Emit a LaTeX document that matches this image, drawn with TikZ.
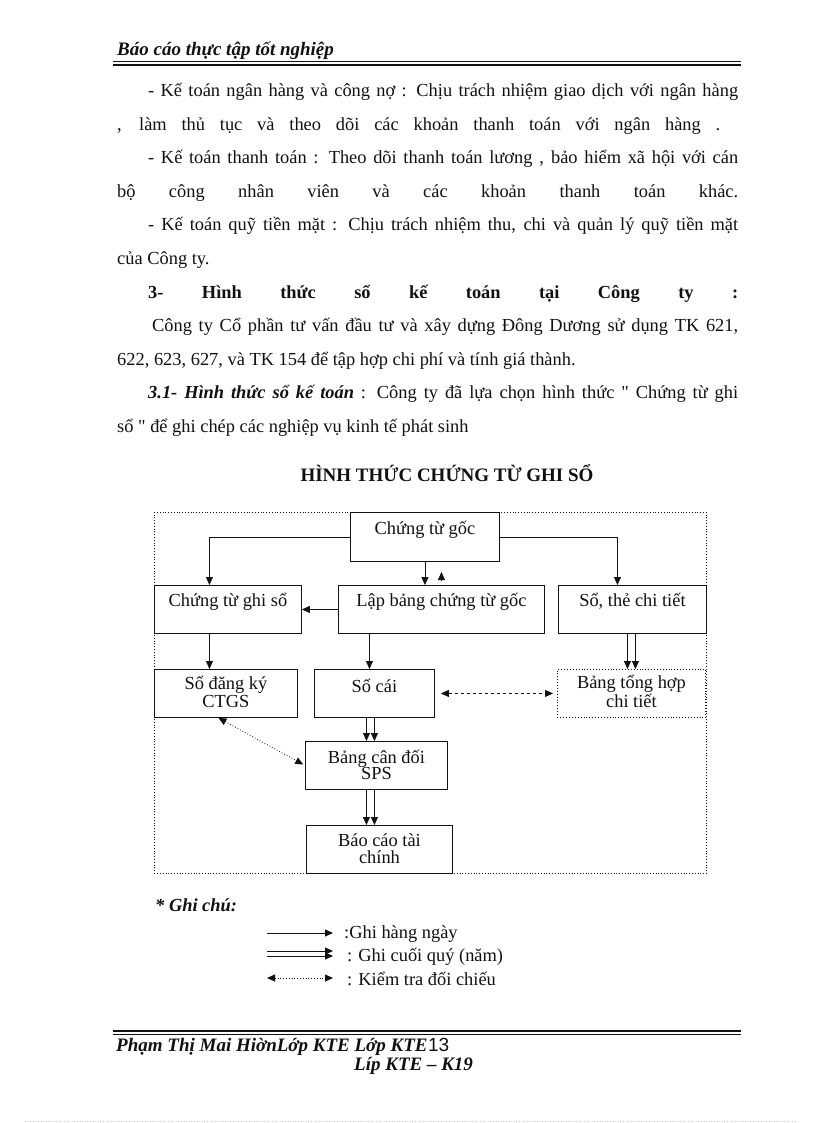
\documentclass[tikz,border=0pt]{standalone}
\usepackage{fontspec}
\setmainfont{Liberation Serif}[Ligatures=TeXOff]
\setsansfont{Liberation Sans}
\usetikzlibrary{arrows.meta,positioning,calc}
\definecolor{Ink}{HTML}{111111}
\newcommand{\JustLine}[5]{%
  \node[body] (#1) at (#2,#3) {\makebox[#4pt][s]{#5}};%
}
\newcommand{\PlainLine}[4]{%
  \node[body] (#1) at (#2,#3) {#4};%
}

\begin{document}
\begin{tikzpicture}[x=1pt,y=-1pt,
  body/.style={font=\fontsize{18.4}{20}\selectfont,inner sep=0pt,anchor=base west,text=Ink},
  docbox/.style={draw=Ink,line width=0.9pt,anchor=north west,inner sep=0pt,minimum height=48pt},
  boxtext/.style={font=\fontsize{18.4}{15.5}\selectfont,inner sep=0pt,anchor=base,align=center,text=Ink},
  arr/.style={draw=Ink,line width=0.8pt,-{Triangle[length=8pt,width=7pt]}},
  twoway/.style={draw=Ink,line width=0.8pt,{Triangle[length=8pt,width=7pt]}-{Triangle[length=8pt,width=7pt]}},
  outerframe/.style={draw=Ink,line width=0.8pt,dotted,anchor=north west,inner sep=0pt}]
\fill[white] (0,0) rectangle (816,1123);
\useasboundingbox (0,0) rectangle (816,1123);

% header
\node[body,font=\fontsize{19}{20}\selectfont\bfseries\itshape] (head) at (117,56) {Báo cáo thực tập tốt nghiệp};
\draw[Ink,line width=0.8pt] (113,61.5) -- (741,61.5);
\draw[Ink,line width=1.6pt] (113,64.8) -- (741,64.8);

% text of the page
\JustLine{l1}{148}{97}{590}{- Kế toán ngân hàng và công nợ : Chịu trách nhiệm giao dịch với ngân hàng}
\JustLine{l2}{117}{130.5}{603}{, làm thủ tục và theo dõi các khoản thanh toán với ngân hàng .}
\JustLine{l3}{148}{164}{590}{- Kế toán thanh toán : Theo dõi thanh toán lương , bảo hiểm xã hội với cán}
\JustLine{l4}{117}{197.5}{621}{bộ công nhân viên và các khoản thanh toán khác.}
\JustLine{l5}{148}{231}{590}{- Kế toán quỹ tiền mặt : Chịu trách nhiệm thu, chi và quản lý quỹ tiền mặt}
\PlainLine{l6}{117}{264.5}{của Công ty.}
\JustLine{l7}{148}{298}{590}{\bfseries 3- Hình thức sổ kế toán tại Công ty :}
\JustLine{l8}{152}{331.5}{586}{Công ty Cổ phần tư vấn đầu tư và xây dựng Đông Dương sử dụng TK 621,}
\PlainLine{l9}{117}{365}{622, 623, 627, và TK 154 để tập hợp chi phí và tính giá thành.}
\JustLine{l10}{148}{398.5}{590}{\textbf{\textit{3.1- Hình thức sổ kế toán}} : Công ty đã lựa chọn hình thức " Chứng từ ghi}
\PlainLine{l11}{117}{432}{sổ " để ghi chép các nghiệp vụ kinh tế phát sinh}

% title
\node[body,anchor=base,font=\fontsize{19}{20}\selectfont\bfseries] (title) at (447,481) {HÌNH THỨC CHỨNG TỪ GHI SỔ};

% boxes
\node[outerframe,minimum width=552pt,minimum height=361pt] (frame) at (154,512) {};
\node[docbox,minimum width=149pt,minimum height=49pt] (cg) at (350,512) {};
\node[docbox,minimum width=147pt] (ctgs) at (154,585) {};
\node[docbox,minimum width=206pt] (lb) at (338,585) {};
\node[docbox,minimum width=148pt] (stct) at (558,585) {};
\node[docbox,minimum width=143pt] (sdk) at (154,669) {};
\node[docbox,minimum width=120pt] (sc) at (314,669) {};
\node[docbox,dotted,minimum width=148pt] (bth) at (557,669) {};
\node[docbox,minimum width=142pt] (bcd) at (305,741) {};
\node[docbox,minimum width=146pt] (bctc) at (306,825) {};

% texts in the boxes (two-line texts sit on their last line)
\node[boxtext] (cgT) at ([yshift=-22pt]cg.north) {Chứng từ gốc};
\node[boxtext] (ctgsT) at ([yshift=-21pt]ctgs.north) {Chứng từ ghi sổ};
\node[boxtext] (lbT) at ([yshift=-21pt]lb.north) {Lập bảng chứng từ gốc};
\node[boxtext] (stctT) at ([yshift=-21pt]stct.north) {Sổ, thẻ chi tiết};
\node[boxtext] (sdkT) at ([yshift=-38pt]sdk.north) {Sổ đăng ký\\CTGS};
\node[boxtext] (scT) at ([yshift=-23pt]sc.north) {Sổ cái};
\node[boxtext] (bthT) at ([yshift=-38pt]bth.north) {Bảng tổng hợp\\chi tiết};
\node[boxtext,font=\fontsize{18.4}{16.5}\selectfont] (bcdT) at ([yshift=-38.5pt]bcd.north) {Bảng cân đối\\SPS};
\node[boxtext,font=\fontsize{18.4}{16.5}\selectfont] (bctcT) at ([yshift=-38pt]bctc.north) {Báo cáo tài\\chính};

% connectors
\draw[arr] (cg.west) -| ([xshift=-18.5pt]ctgs.north);
\draw[arr] (cg.east) -| ([xshift=-15pt]stct.north);
\draw[arr] (cg.south) -- (cg.south |- lb.north);
\draw[arr,shorten <=4pt] (lb.north) -- ++(0,-13);
\draw[arr] (lb.west) -- (ctgs.east);
\draw[arr] ([xshift=-18.5pt]ctgs.south) -- ([xshift=-18.5pt]ctgs.south |- sdk.north);
\draw[arr] ([xshift=-5pt]sc.north |- lb.south) -- ([xshift=-5pt]sc.north);
\foreach \dx in {-4,4}
  \draw[arr] ([xshift=\dx pt]bth.north |- stct.south) -- ([xshift=\dx pt]bth.north);
\draw[twoway,dashed,shorten <=6pt,shorten >=4pt] (sc.east) -- (bth.west);
\foreach \dx in {-8,0} {
  \draw[arr] ([xshift=\dx pt]sc.south) -- ([xshift=\dx pt]sc.south |- bcd.north);
  \draw[arr] ([xshift=\dx pt]sc.south |- bcd.south) -- ([xshift=\dx pt]sc.south |- bctc.north);
}
\draw[twoway,dotted,shorten >=2pt] ([xshift=-7.5pt]sdk.south) -- (bcd.west);

% legend
\node[body,font=\fontsize{18.4}{20}\selectfont\bfseries\itshape] (note) at (155,911) {* Ghi chú:};
\coordinate (k1a) at (267,933);  \coordinate (k1b) at (333,933);
\coordinate (k2a) at (267,951);  \coordinate (k2b) at (333,951);
\coordinate (k3a) at (267,956);  \coordinate (k3b) at (333,956);
\coordinate (k4a) at (267,978);  \coordinate (k4b) at (333,978);
\draw[arr] (k1a) -- (k1b);
\draw[arr] (k2a) -- (k2b);
\draw[arr] (k3a) -- (k3b);
\draw[twoway,dotted] (k4a) -- (k4b);
\PlainLine{g1}{344}{938}{:Ghi hàng ngày}
\PlainLine{g2}{347}{961}{: Ghi cuối quý (năm)}
\PlainLine{g3}{347}{985}{: Kiểm tra đối chiếu}

% footer
\draw[Ink,line width=1.6pt] (113,1031) -- (741,1031);
\draw[Ink,line width=0.8pt] (113,1034.5) -- (741,1034.5);
\node[body,font=\fontsize{19}{20}\selectfont\bfseries\itshape] (foot) at (116,1051) {Phạm Thị Mai HiờnLớp KTE Lớp KTE};
\node[body,font=\fontsize{19}{20}\selectfont\sffamily] (page) at (foot.base east) {13};
\node[body,font=\fontsize{19}{20}\selectfont\bfseries\itshape] (cls) at (354,1070) {Líp KTE – K19};
\draw[gray!40,dotted,line width=0.6pt] (25,1121) -- (795,1121);
\end{tikzpicture}
\end{document}
